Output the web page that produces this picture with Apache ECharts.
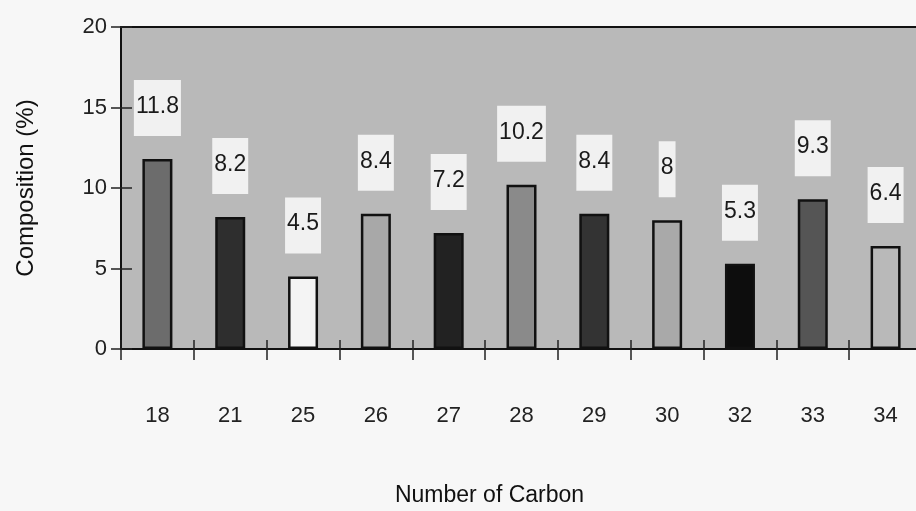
<!DOCTYPE html>
<html>
<head>
<meta charset="utf-8">
<script src="https://cdn.jsdelivr.net/npm/echarts@6/dist/echarts.min.js"></script>
<style>
  html, body { margin: 0; padding: 0; background: #f7f7f7; }
  #chart { width: 916px; height: 511px; }
</style>
</head>
<body>
<div id="chart"></div>
<script>
// Carbon-number distribution of the composition
const carbonNumbers = ['18', '21', '25', '26', '27', '28', '29', '30', '32', '33', '34'];
const composition = [11.8, 8.2, 4.5, 8.4, 7.2, 10.2, 8.4, 8, 5.3, 9.3, 6.4];
const barShades = ['#6c6c6c', '#2e2e2e', '#f4f4f4', '#a8a8a8', '#222222', '#8a8a8a',
                   '#333333', '#a9a9a9', '#0d0d0d', '#555555', '#b9b9b9'];
const yTicks = { min: 0, max: 20, interval: 5 };

const font = 'Liberation Sans, Arial, sans-serif';
const chart = echarts.init(document.getElementById('chart'));

const barData = composition.map((v, i) => ({
  value: v,
  itemStyle: { color: barShades[i] }
}));

chart.setOption({
  backgroundColor: '#f7f7f7',
  animation: false,
  grid: {
    left: 121, top: 27, width: 801, height: 322,
    outerBoundsMode: 'none',
    show: true, backgroundColor: '#b9b9b9',
    borderColor: '#111', borderWidth: 2
  },
  xAxis: [{
    type: 'category',
    data: carbonNumbers,
    boundaryGap: true,
    name: 'Number of Carbon',
    nameLocation: 'middle',
    nameGap: 135,
    nameTextStyle: { fontFamily: font, fontSize: 23, color: '#111', padding: [0, 64, 0, 0] },
    axisLine: { lineStyle: { color: '#111', width: 2 } },
    axisTick: { show: true, length: 11, lineStyle: { color: '#222', width: 1.5 } },
    axisLabel: { fontFamily: font, fontSize: 22, color: '#222', margin: 56 }
  }, {
    type: 'category',
    data: carbonNumbers,
    position: 'bottom',
    boundaryGap: true,
    axisLine: { show: false },
    axisTick: { show: true, inside: true, length: 9, lineStyle: { color: '#222', width: 1.5 } },
    axisLabel: { show: false }
  }],
  yAxis: [{
    type: 'value',
    min: yTicks.min, max: yTicks.max, interval: yTicks.interval,
    name: 'Composition (%)',
    nameLocation: 'middle',
    nameGap: 83,
    nameTextStyle: { fontFamily: font, fontSize: 24, color: '#111' },
    axisLine: { show: true, lineStyle: { color: '#111', width: 2 } },
    axisTick: { show: true, length: 10, lineStyle: { color: '#222', width: 1.5 } },
    axisLabel: { fontFamily: font, fontSize: 22, color: '#222', margin: 14 },
    splitLine: { show: false }
  }, {
    type: 'value',
    position: 'left',
    min: yTicks.min, max: yTicks.max, interval: yTicks.interval,
    axisLine: { show: false },
    axisTick: { show: true, inside: true, length: 11, lineStyle: { color: '#222', width: 1.5 } },
    axisLabel: { show: false },
    splitLine: { show: false }
  }],
  series: [{
    type: 'bar',
    xAxisIndex: 0,
    yAxisIndex: 0,
    data: barData,
    barWidth: 30,
    itemStyle: { borderColor: '#111', borderWidth: 2.5 },
    label: {
      show: true,
      position: 'top',
      distance: 23,
      fontFamily: font,
      fontSize: 23,
      color: '#1a1a1a',
      backgroundColor: '#f1f1f1',
      padding: [15, 2, 18, 2]
    }
  }]
});
</script>
</body>
</html>
